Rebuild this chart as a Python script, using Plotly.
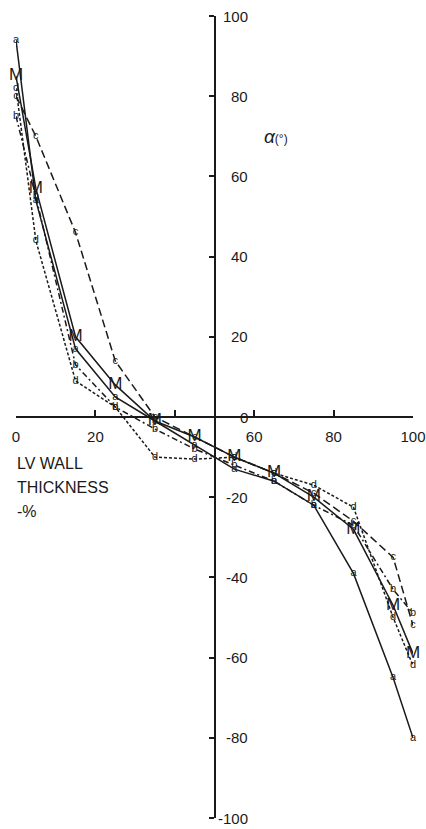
import plotly.graph_objects as go

# wall-thickness positions (%)
x_pos = [0, 5, 15, 25, 35, 45, 55, 65, 75, 85, 95, 100]
# fibre angle alpha (degrees) per heart
a_vals = [94, 54, 17, 5, -1, -7, -13, -16, -22, -39, -65, -80]
b_vals = [75, 55, 13, 2.5, -3, -8, -12, -16, -22, -27, -43, -49]
c_vals = [80, 70, 46, 14, 0, -5, -10, -14, -19, -26, -35, -52]
d_vals = [82, 44, 9, 2.5, -10, -10.5, -10, -14, -17, -22.5, -50, -62]
m_vals = [85, 57, 20, 8, -1, -5, -10, -14, -20, -28, -47, -59]

x_ticks = [0, 20, 40, 60, 80, 100]
x_ticktext = ["0", "20", "", "60", "80", "100"]
y_ticks = [100, 80, 60, 40, 20, 0, -20, -40, -60, -80, -100]
y_ticktext = ["100", "80", "60", "40", "20", "0", "-20", "-40", "-60", "-80", "-100"]

FONT = "Liberation Sans Narrow, Liberation Sans, Arial, sans-serif"
INK = "#1a1a1a"

series = [
    ("a", a_vals, "solid", 11),
    ("b", b_vals, "6px,3px,2px,3px", 11),
    ("c", c_vals, "8px,4px", 11),
    ("d", d_vals, "3px,2px", 11),
    ("M", m_vals, "solid", 17),
]

fig = go.Figure()
for name, vals, dash, fs in series:
    fig.add_trace(go.Scatter(
        x=x_pos, y=vals, mode="lines+text", name=name,
        text=[name] * len(x_pos), textposition="middle center",
        textfont=dict(family=FONT, size=fs, color=INK),
        line=dict(color=INK, width=1.5, dash=dash),
        cliponaxis=False, showlegend=False,
    ))

# y tick labels (right-aligned, right of the axis)
for v, t in zip(y_ticks, y_ticktext):
    fig.add_annotation(x=50, y=v, text=t, showarrow=False, xref="x", yref="y",
                       xanchor="right", yanchor="middle", xshift=35,
                       font=dict(family=FONT, size=15, color=INK))

fig.add_annotation(x=65.5, y=70, xref="x", yref="y", showarrow=False,
                   text="<i>α</i><span style='font-size:12px'>(°)</span>",
                   font=dict(family="Liberation Sans, Arial, sans-serif", size=19, color=INK))
for txt, yy in [("LV WALL", -11.5), ("THICKNESS", -17.5), ("-%", -23.5)]:
    fig.add_annotation(x=0, y=yy, xref="x", yref="y", showarrow=False, text=txt,
                       xanchor="left", yanchor="middle", xshift=-1,
                       font=dict(family=FONT, size=16, color=INK))

fig.update_layout(
    width=426, height=829,
    margin=dict(l=16, r=13, t=16, b=11, autoexpand=False),
    paper_bgcolor="white", plot_bgcolor="white",
    xaxis=dict(range=[0, 100], anchor="free", position=0.5, side="bottom",
               showgrid=False, zeroline=False, showline=True, linecolor=INK, linewidth=1.5,
               ticks="inside", ticklen=6, tickwidth=1.5, tickcolor=INK,
               tickvals=x_ticks, ticktext=x_ticktext, ticklabelstandoff=6,
               tickfont=dict(family=FONT, size=15, color=INK), automargin=False),
    yaxis=dict(range=[-100, 100], anchor="free", position=0.5, side="left",
               showgrid=False, zeroline=False, showline=True, linecolor=INK, linewidth=1.5,
               ticks="outside", ticklen=5, tickwidth=1.5, tickcolor=INK,
               tickvals=y_ticks, showticklabels=False, automargin=False),
)

fig.write_html("out.html")
